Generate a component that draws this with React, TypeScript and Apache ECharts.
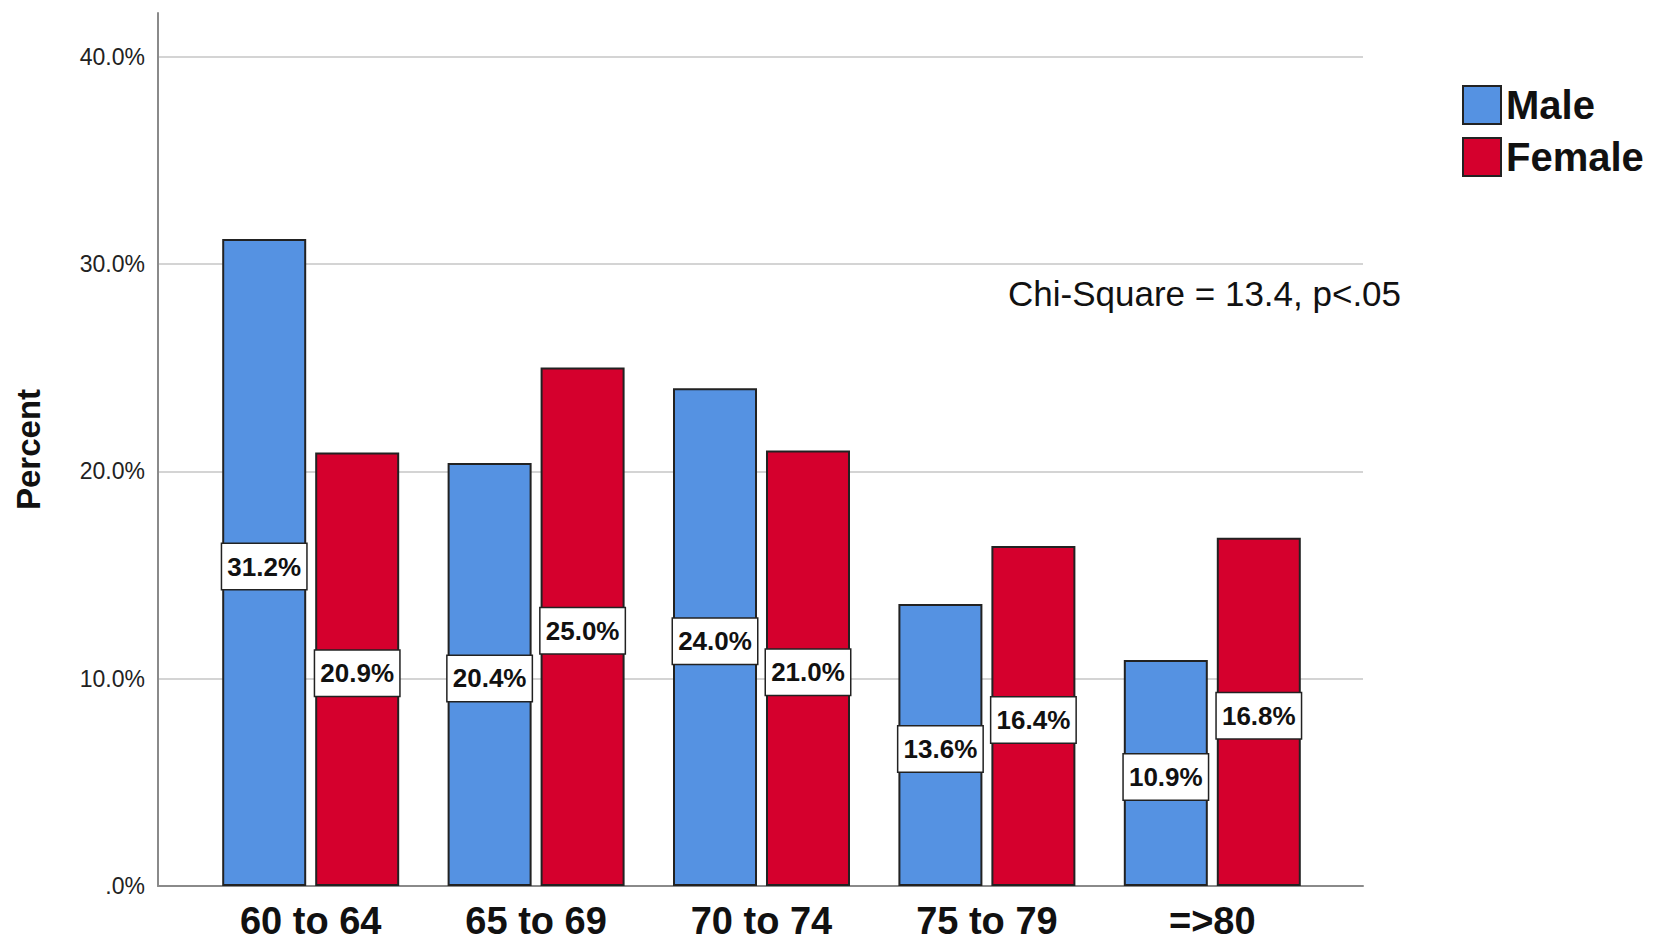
import React, { useEffect, useRef } from "react";
import * as echarts from "echarts";

const categories = ["60 to 64", "65 to 69", "70 to 74", "75 to 79", "=>80"];
const maleValues = [31.2, 20.4, 24.0, 13.6, 10.9];
const femaleValues = [20.9, 25.0, 21.0, 16.4, 16.8];
const seriesNames = ["Male", "Female"];
const annotation = "Chi-Square = 13.4, p<.05";

const SANS = "'Liberation Sans', Arial, Helvetica, sans-serif";
const Y_MAX = 42.1;

export default function App() {
  const ref = useRef<HTMLDivElement>(null);

  useEffect(() => {
    if (!ref.current) return;
    const chart = echarts.init(ref.current, undefined, { renderer: "svg" });

    const barLabel = {
      show: true,
      position: "inside",
      offset: [0, 4],
      formatter: (p: any) => Number(p.value).toFixed(1) + "%",
      backgroundColor: "#ffffff",
      borderColor: "#222222",
      borderWidth: 1.5,
      width: 80,
      height: 41,
      lineHeight: 41,
      padding: [2, 2],
      align: "center",
      verticalAlign: "middle",
      fontSize: 26,
      fontWeight: "bold",
      fontFamily: SANS,
      color: "#111111",
    };

    const option: any = {
      animation: false,
      backgroundColor: "#ffffff",
      grid: [
        { left: 158, right: 293, top: 13, bottom: 57, containLabel: false },
        { left: 198, right: 331, top: 13, bottom: 57, containLabel: false },
      ],
      xAxis: [
        {
          type: "value",
          gridIndex: 0,
          min: 0,
          max: 1,
          axisLine: { show: true, onZero: false, lineStyle: { color: "#8a8a8a", width: 2 } },
          axisTick: { show: false },
          axisLabel: { show: false },
          splitLine: { show: false },
        },
        {
          type: "category",
          gridIndex: 1,
          data: categories,
          axisLine: { show: false },
          axisTick: { show: false },
          axisLabel: {
            interval: 0,
            margin: 19,
            fontSize: 38,
            lineHeight: 32,
            fontWeight: "bold",
            fontFamily: SANS,
            color: "#111111",
          },
          splitLine: { show: false },
        },
      ],
      yAxis: [
        {
          type: "value",
          gridIndex: 0,
          min: 0,
          max: Y_MAX,
          interval: 10,
          name: "Percent",
          nameLocation: "middle",
          nameRotate: 90,
          nameGap: 113,
          nameTextStyle: { fontSize: 33, fontWeight: "bold", fontFamily: SANS, color: "#111111" },
          axisLine: { show: true, lineStyle: { color: "#8a8a8a", width: 2 } },
          axisTick: { show: false },
          axisLabel: {
            showMaxLabel: false,
            margin: 13,
            fontSize: 23,
            fontFamily: SANS,
            color: "#222222",
            padding: [8, 0, 0, 0],
            formatter: (v: number) => (v === 0 ? ".0%" : v.toFixed(1) + "%"),
          },
          splitLine: {
            show: true,
            showMaxLine: false,
            lineStyle: { color: ["#d4d4d4", "#d4d4d4", "#d4d4d4", "#d4d4d4", "#d4d4d4", "rgba(0,0,0,0)"], width: 2 },
          },
        },
        {
          type: "value",
          gridIndex: 1,
          min: 0,
          max: Y_MAX,
          interval: 10,
          show: false,
          splitLine: { show: false },
        },
      ],
      legend: {
        orient: "vertical",
        left: 1462,
        top: 85,
        padding: 0,
        icon: "rect",
        itemWidth: 38,
        itemHeight: 38,
        itemGap: 12,
        data: seriesNames,
        textStyle: {
          fontSize: 40,
          fontWeight: "bold",
          fontFamily: SANS,
          color: "#111111",
          lineHeight: 38,
        },
      },
      graphic: [
        {
          type: "text",
          left: 1008,
          top: 276,
          style: {
            text: annotation,
            fontSize: 35,
            fontFamily: SANS,
            fill: "#111111",
          },
        },
      ],
      series: [
        {
          name: seriesNames[0],
          type: "bar",
          xAxisIndex: 1,
          yAxisIndex: 1,
          data: maleValues,
          barWidth: 84,
          barGap: "10.7%",
          itemStyle: { color: "#5592e2", borderColor: "#222222", borderWidth: 2 },
          label: barLabel,
        },
        {
          name: seriesNames[1],
          type: "bar",
          xAxisIndex: 1,
          yAxisIndex: 1,
          data: femaleValues,
          barWidth: 84,
          barGap: "10.7%",
          itemStyle: { color: "#d5002d", borderColor: "#222222", borderWidth: 2 },
          label: barLabel,
        },
      ],
    };

    chart.setOption(option);
    return () => chart.dispose();
  }, []);

  return (
    <div
      ref={ref}
      style={{ position: "absolute", left: 0, top: 0, width: 1656, height: 943 }}
    />
  );
}
